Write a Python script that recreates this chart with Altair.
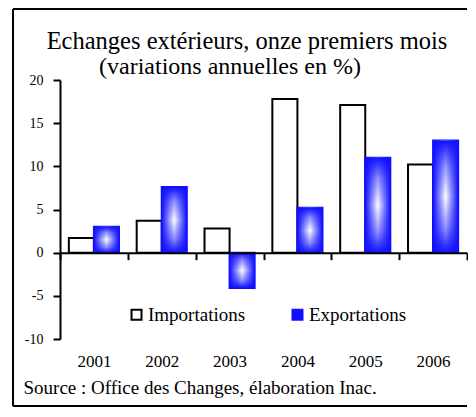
import altair as alt
import pandas as pd

years = ["2001", "2002", "2003", "2004", "2005", "2006"]
imports = [1.7, 3.7, 2.8, 17.8, 17.1, 10.2]
exports = [3.0, 7.6, -4.1, 5.2, 11.0, 13.0]
series = ["Importations", "Exportations"]
y_ticks = [-10, -5, 0, 5, 10, 15, 20]
title_1 = "Echanges extérieurs, onze premiers mois"
title_2 = "(variations annuelles en %)"
source = "Source : Office des Changes, élaboration Inac."

rows = []
for i, yr in enumerate(years):
    rows.append({"year": yr, "series": series[0], "value": imports[i]})
    rows.append({"year": yr, "series": series[1], "value": exports[i]})
df = pd.DataFrame(rows)

W, H = 407, 259
FONT = "Liberation Serif"
BLUE = "#1010ff"
ZERO_OFF = -H * 10 / 30

legend = alt.Legend(
    orient="none", legendX=67, legendY=225, direction="horizontal", title=None,
    symbolType="square", symbolSize=100, symbolStrokeWidth=2,
    labelFont=FONT, labelFontSize=19, labelColor="black", labelOffset=2,
    columnPadding=42, padding=0,
)

x_enc = alt.X(
    "year:N", sort=years,
    scale=alt.Scale(paddingInner=0, paddingOuter=0),
    axis=alt.Axis(
        orient="bottom", offset=ZERO_OFF, domain=True, domainColor="black",
        domainWidth=2, ticks=True, tickBand="extent", tickSize=7, tickWidth=2,
        tickColor="black", labelPadding=94, labelFont=FONT, labelFontSize=17,
        labelColor="black", labelAngle=0, title=source, titleFont=FONT,
        titleFontSize=19, titleFontWeight="normal", titleColor="black",
        titleAlign="left", titleX=-37, titleY=141, titleBaseline="alphabetic",
        zindex=1,
    ),
)
y_enc = alt.Y(
    "value:Q",
    scale=alt.Scale(domain=[-10, 20], nice=False, zero=False),
    axis=alt.Axis(
        values=y_ticks, grid=False, domainColor="black", domainWidth=2,
        tickSize=7, tickWidth=2, tickColor="black", labelPadding=10,
        labelFont=FONT, labelFontSize=14, labelColor="black",
        labelExpr="'' + datum.value", title=None, zindex=1,
    ),
)
xo_enc = alt.XOffset(
    "series:N", sort=series,
    scale=alt.Scale(domain=series, paddingOuter=0.353, paddingInner=0),
)

base = alt.Chart(df).encode(x=x_enc, y=y_enc, xOffset=xo_enc)

bars = base.mark_bar(strokeWidth=2).encode(
    fill=alt.Fill("series:N", sort=series,
                  scale=alt.Scale(domain=series, range=["white", BLUE]), legend=legend),
    stroke=alt.Stroke("series:N", sort=series,
                      scale=alt.Scale(domain=series, range=["black", BLUE]), legend=legend),
)

h_grad = alt.Gradient(
    gradient="linear", x1=0, x2=1, y1=0, y2=0,
    stops=[alt.GradientStop(color=BLUE, offset=0),
           alt.GradientStop(color="#ffffff", offset=0.5),
           alt.GradientStop(color=BLUE, offset=1)],
)
v_grad = alt.Gradient(
    gradient="linear", x1=0, x2=0, y1=0, y2=1,
    stops=[alt.GradientStop(color="rgba(16,16,255,1)", offset=0),
           alt.GradientStop(color="rgba(16,16,255,0.45)", offset=0.22),
           alt.GradientStop(color="rgba(16,16,255,0)", offset=0.5),
           alt.GradientStop(color="rgba(16,16,255,0.45)", offset=0.78),
           alt.GradientStop(color="rgba(16,16,255,1)", offset=1)],
)
exp_h = base.mark_bar(fill=h_grad, strokeWidth=0).transform_filter(
    alt.datum.series == series[1])
exp_v = base.mark_bar(fill=v_grad, strokeWidth=0).transform_filter(
    alt.datum.series == series[1])

t1 = alt.Chart(pd.DataFrame({"t": [title_1]})).mark_text(
    font=FONT, fontSize=24.5, align="center", baseline="alphabetic", color="black"
).encode(x=alt.value(187), y=alt.value(-31), text="t:N")
t2 = alt.Chart(pd.DataFrame({"t": [title_2]})).mark_text(
    font=FONT, fontSize=24, align="center", baseline="alphabetic", color="black"
).encode(x=alt.value(170), y=alt.value(-6), text="t:N")

frame_df = pd.DataFrame({"f": [0]})
left = alt.Chart(frame_df).mark_rule(color="black", strokeWidth=2).encode(
    x=alt.value(-47), y=alt.value(-71), y2=alt.value(326))
top = alt.Chart(frame_df).mark_rule(color="black", strokeWidth=2).encode(
    x=alt.value(-47), x2=alt.value(W), y=alt.value(-71))
bottom = alt.Chart(frame_df).mark_rule(color="black", strokeWidth=2).encode(
    x=alt.value(-47), x2=alt.value(W), y=alt.value(326))

chart = alt.layer(bars, exp_h, exp_v, t1, t2, left, top, bottom).properties(
    width=W, height=H,
    padding={"left": 4, "top": 0, "right": 0, "bottom": 0},
).configure_view(strokeWidth=0)

chart.save("out.html", embed_options={"renderer": "svg", "actions": False})
